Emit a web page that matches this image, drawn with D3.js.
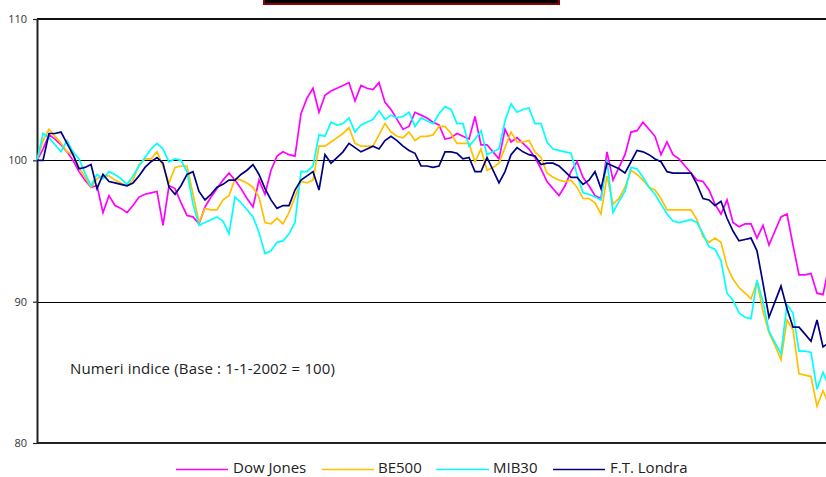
<!DOCTYPE html>
<html>
<head>
<meta charset="utf-8">
<script src="https://cdn.jsdelivr.net/npm/d3@7"></script>
<style>
  html, body { margin: 0; padding: 0; background: #fff; }
  svg { display: block; }
  text { font-family: "Open Sans", "DejaVu Sans", sans-serif; }
</style>
</head>
<body>
<svg id="chart" width="826" height="477"></svg>
<script>
// Indici di borsa, numeri indice (base 1-1-2002 = 100), osservazioni giornaliere
const seriesNames = ["Dow Jones", "BE500", "MIB30", "F.T. Londra"];
const seriesColors = ["#FF00FF", "#FFC000", "#00FFFF", "#000080"];
const yTicks = [80, 90, 100, 110];
const gridValues = [90, 100];
const noteText = "Numeri indice (Base : 1-1-2002 = 100)";

const dowJones = [
  100, 100.8, 101.8, 101.5, 101.1, 100.6, 100, 99.2, 98.6, 98.1,
  98.2, 96.3, 97.5, 96.8, 96.6, 96.3, 96.8, 97.4, 97.6, 97.7,
  97.8, 95.4, 98.2, 98.0, 97.0, 96.1, 96.0, 95.5, 96.7, 97.4,
  98.0, 98.6, 99.1, 98.6, 98.0, 97.3, 96.7, 98.6, 97.6, 99.3,
  100.3, 100.6, 100.4, 100.3, 103.3, 104.4, 105.1, 103.4, 104.6, 104.9,
  105.1, 105.3, 105.5, 104.2, 105.3, 105.1, 105.0, 105.5, 104.1, 103.6,
  102.9, 102.2, 102.4, 103.4, 103.2, 103.0, 102.7, 102.5, 101.5, 101.6,
  101.9, 101.7, 101.5, 103.1, 101.1, 101.1, 100.6, 100.1, 102.2, 101.3,
  101.6, 101.2, 100.8, 100.2, 99.4, 98.5, 98.0, 97.5, 98.2, 99.2,
  99.9, 98.8, 98.2, 97.5, 97.3, 100.6, 98.6, 99.5, 100.4, 102.0,
  102.1, 102.7, 102.2, 101.7, 100.4, 101.3, 100.4, 100.1, 99.6, 99.1,
  98.6, 98.5, 97.9, 96.9, 96.2, 97.2, 95.6, 95.3, 95.5, 95.5,
  94.5, 95.4, 94.0, 95.0, 96.0, 96.2, 94.0, 91.9, 91.9, 92.0,
  90.6, 90.5, 92.5
];

const be500 = [
  100, 101.4, 102.2, 101.7, 101.2, 100.6, 100.4, 99.5, 98.8, 98.1,
  98.7, 98.9, 98.9, 98.6, 98.4, 98.2, 98.6, 99.7, 100.1, 100.1,
  100.6, 99.6, 98.4, 99.5, 99.6, 99.6, 97.6, 95.6, 96.6, 96.5,
  96.5, 97.2, 97.5, 98.7, 98.6, 98.4, 98.1, 97.4, 95.6, 95.5,
  95.9, 95.5, 96.3, 97.4, 98.5, 98.4, 98.6, 101.0, 101.0, 101.3,
  101.6, 101.9, 102.3, 101.2, 101.0, 101.0, 101.0, 101.8, 102.6, 102.0,
  101.7, 101.6, 102.0, 101.4, 101.7, 101.7, 101.8, 102.4, 102.4, 101.9,
  101.2, 101.2, 101.2, 99.9, 100.8, 99.3, 99.5, 99.8, 100.9, 102.0,
  101.3, 101.3, 101.4, 100.6, 100.2, 99.1, 98.8, 98.6, 98.5, 98.6,
  98.1, 97.3, 97.3, 97.0, 96.2, 98.9, 96.9, 97.3, 98.1, 99.3,
  99.0, 98.6, 98.1, 97.9, 97.3, 96.5, 96.5, 96.5, 96.5, 96.5,
  95.8, 94.6, 94.2, 94.5, 94.2, 92.5, 91.6, 91.0, 90.6, 90.2,
  91.4, 89.3, 87.8, 86.9, 85.9, 88.7, 88.0, 84.9, 84.8, 84.7,
  82.6, 83.7, 82.7
];

const mib30 = [
  100, 101.9, 101.6, 101.1, 100.6, 101.4, 100.6, 100.1, 99.1, 98.2,
  99.0, 98.7, 99.2, 99.0, 98.7, 98.3, 98.9, 99.6, 100.2, 100.8,
  101.2, 100.8, 99.9, 100.1, 100.0, 99.2, 96.9, 95.4, 95.6, 95.8,
  96.0, 95.7, 94.8, 97.4, 97.0, 96.5, 96.0, 94.9, 93.4, 93.6,
  94.2, 94.3, 94.8, 95.6, 99.2, 99.2, 99.6, 101.8, 101.7, 102.7,
  102.5, 102.6, 103.0, 102.0, 102.5, 102.7, 102.9, 103.5, 102.9, 103.2,
  103.0, 103.1, 103.4, 102.4, 103.0, 102.8, 102.6, 103.3, 103.8, 103.6,
  102.6, 102.6, 101.0, 101.5, 102.1, 100.4, 100.6, 100.8, 102.8, 104.0,
  103.4, 103.6, 103.7, 102.6, 102.6, 101.3, 100.8, 100.7, 100.6, 100.5,
  99.0, 97.7, 97.6, 97.4, 97.2, 100.0, 96.3, 97.1, 97.8, 99.5,
  99.4, 98.8, 98.1, 97.6, 96.9, 96.2, 95.7, 95.6, 95.7, 95.8,
  95.6, 94.8, 93.9, 93.7, 92.9, 90.6, 90.1, 89.2, 88.9, 88.8,
  91.5, 90.0, 87.9, 87.1, 86.3, 89.8, 89.2, 86.5, 86.5, 86.4,
  83.8, 85.0, 84.0
];

const ftLondra = [
  100, 100, 101.9, 101.9, 102.0, 101.2, 100.4, 99.4, 99.5, 99.7,
  98.0, 99.0, 98.5, 98.4, 98.3, 98.2, 98.4, 98.9, 99.5, 99.9,
  100.2, 99.8, 98.1, 97.6, 98.2, 99.0, 99.2, 97.8, 97.2, 97.6,
  98.1, 98.3, 98.6, 98.6, 99.0, 99.3, 99.7, 99.0, 98.0, 97.2,
  96.6, 96.8, 96.8, 97.9, 98.6, 98.9, 99.2, 97.9, 100.4, 99.8,
  100.2, 100.6, 101.2, 100.9, 100.6, 100.8, 101.0, 100.8, 101.4, 101.7,
  101.4, 101.0, 100.7, 100.5, 99.6, 99.6, 99.5, 99.6, 100.6, 100.6,
  100.5, 100.1, 100.2, 99.2, 99.2, 100.2, 99.3, 98.4, 99.2, 100.4,
  100.9, 100.6, 100.4, 100.3, 99.7, 99.8, 99.8, 99.6, 99.2, 98.8,
  98.8, 98.3, 98.6, 99.2, 98.0, 99.8, 99.6, 99.4, 99.1, 99.9,
  100.7, 100.6, 100.4, 100.1, 99.9, 99.2, 99.1, 99.1, 99.1, 99.1,
  98.3, 97.3, 97.2, 96.8, 97.1, 95.9, 95.0, 94.3, 94.4, 94.5,
  93.6, 91.3, 88.9, 90.0, 91.1, 89.5, 88.2, 88.2, 87.7, 87.2,
  88.7, 86.8, 87.1
];

const allSeries = [dowJones, be500, mib30, ftLondra];
const days = d3.range(dowJones.length);

const svg = d3.select("#chart");
const W = 826;
const plot = { left: 37, top: 19, bottom: 443, right: 829 };

const x = d3.scaleLinear().domain([0, days.length - 1]).range([plot.left, plot.right]);
const y = d3.scaleLinear().domain([80, 110]).range([plot.bottom, plot.top]);

// Title box (top edge)
svg.append("rect")
  .attr("x", 264).attr("y", -20)
  .attr("width", 295).attr("height", 24)
  .attr("fill", "#000")
  .attr("stroke", "#8B0000")
  .attr("stroke-width", 2);

// Grid lines
svg.append("g").selectAll("line")
  .data(gridValues)
  .join("line")
  .attr("x1", plot.left).attr("x2", W)
  .attr("y1", d => Math.round(y(d)) + 0.5)
  .attr("y2", d => Math.round(y(d)) + 0.5)
  .attr("stroke", "#000")
  .attr("stroke-width", 1.2);

// Top frame line
svg.append("line")
  .attr("x1", plot.left).attr("x2", W)
  .attr("y1", y(110)).attr("y2", y(110))
  .attr("stroke", "#111").attr("stroke-width", 2);

// Bottom axis line
svg.append("line")
  .attr("x1", plot.left).attr("x2", W)
  .attr("y1", y(80)).attr("y2", y(80))
  .attr("stroke", "#222").attr("stroke-width", 2);

// Y axis
const yAxis = d3.axisLeft(y)
  .tickValues(yTicks)
  .tickSize(4)
  .tickSizeOuter(0)
  .tickPadding(6)
  .tickFormat(d3.format("d"));

const gy = svg.append("g")
  .attr("transform", `translate(${plot.left},0)`)
  .call(yAxis);
gy.select(".domain").attr("stroke", "#222").attr("stroke-width", 2);
gy.selectAll(".tick line").attr("stroke", "#222").attr("stroke-width", 1.2);
gy.selectAll(".tick text")
  .attr("fill", "#333")
  .style("font-family", "'Open Sans', 'DejaVu Sans', sans-serif")
  .style("font-size", "11px");

// Series lines
const line = d3.line()
  .x((d, i) => x(days[i]))
  .y(d => y(d));

svg.append("g").selectAll("path")
  .data(allSeries)
  .join("path")
  .attr("d", d => line(d))
  .attr("fill", "none")
  .attr("stroke", (d, i) => seriesColors[i])
  .attr("stroke-width", 1.7)
  .attr("stroke-linejoin", "miter");

// Note inside plot
svg.append("text")
  .attr("x", 70).attr("y", 374)
  .attr("fill", "#222")
  .attr("textLength", 265)
  .attr("lengthAdjust", "spacing")
  .style("font-size", "15px")
  .text(noteText);

// Legend
const legendItems = [
  { x1: 176, x2: 228, tx: 233 },
  { x1: 322, x2: 374, tx: 378 },
  { x1: 436, x2: 489, tx: 493 },
  { x1: 553, x2: 605, tx: 610 }
];
const legend = svg.append("g");
legendItems.forEach((it, i) => {
  legend.append("line")
    .attr("x1", it.x1).attr("x2", it.x2)
    .attr("y1", 469.5).attr("y2", 469.5)
    .attr("stroke", seriesColors[i])
    .attr("stroke-width", 1.6);
  legend.append("text")
    .attr("x", it.tx).attr("y", 472.5)
    .attr("fill", "#222")
    .style("font-size", "15px")
    .text(seriesNames[i]);
});
</script>
</body>
</html>
